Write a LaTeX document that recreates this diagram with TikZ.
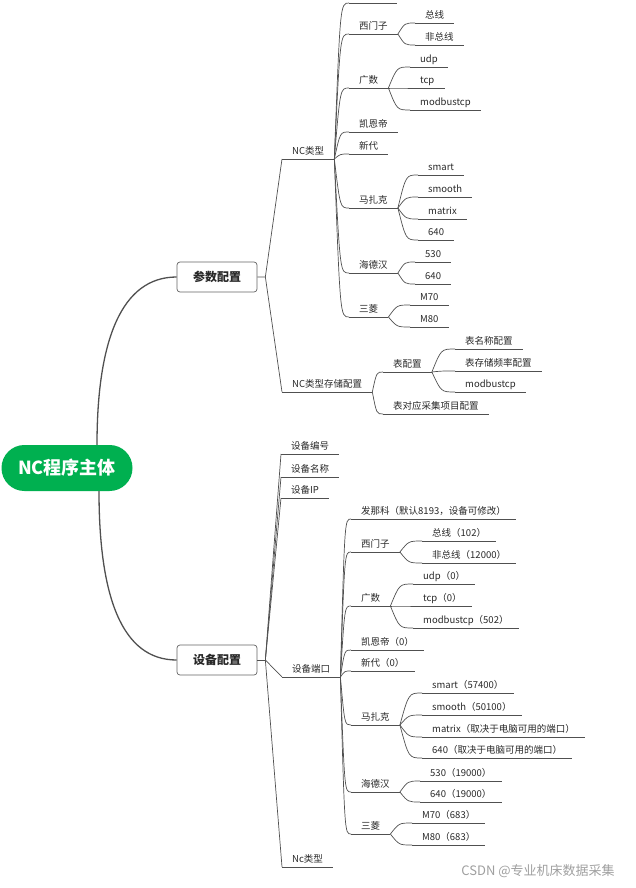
\documentclass[tikz,border=0pt]{standalone}
\usepackage{fontspec}
\setmainfont{Noto Sans CJK SC}
\usetikzlibrary{calc}
\definecolor{rootgreen}{RGB}{0,176,80}
\definecolor{linec}{RGB}{80,80,80}
\definecolor{textc}{RGB}{40,40,40}
\definecolor{boxc}{RGB}{100,100,100}
\tikzset{
  topic/.style={anchor=south west, inner xsep=10pt, inner ysep=0pt,
    text height=8pt, text depth=4pt, text=textc,
    font=\fontsize{9.5}{11}\selectfont,
    append after command={(\tikzlastnode.south west) edge[draw=linec, line width=0.7pt] (\tikzlastnode.south east)}},
  branch/.style={draw=linec, line width=0.7pt,
    to path={.. controls ($(\tikztostart |- \tikztotarget)!0.4!(\tikztotarget)$) .. (\tikztotarget)}},
  link/.style={draw=linec, line width=0.7pt},
  mainbox/.style={draw=boxc, rounded corners=3pt, fill=white, line width=0.7pt,
    minimum width=80pt, minimum height=30pt, text=textc,
    font=\bfseries\fontsize{12}{14}\selectfont},
  rootnode/.style={fill=rootgreen, rounded corners=22.9pt, minimum width=131pt,
    minimum height=46pt, text=white, font=\bfseries\fontsize{18}{20}\selectfont},
  trunk/.style={draw=linec, line width=1.3pt}
}
\begin{document}
\begin{tikzpicture}[x=1pt, y=-1pt]
\useasboundingbox (0,0) rectangle (635,888);

\node[rootnode] (root) at (67,468) {NC程序主体};
\node[mainbox] (cfg) at (217,277) {参数配置};
\node[mainbox] (dev) at (217,660) {设备配置};
\draw[trunk] ([xshift=30pt]root.north) .. controls +(0,-105) and +(-55,0) .. (cfg.west);
\draw[trunk] ([xshift=32pt]root.south) .. controls +(0,105) and +(-55,0) .. (dev.west);

\coordinate (cj) at ([xshift=8pt]cfg.east);
\coordinate (dj) at ([xshift=8pt]dev.east);

\node[topic] (nct) at (282,159) {NC类型};
\node[topic] (ncs) at (282,392) {NC类型存储配置};
\draw[link] (cfg.east) -- (cj) -- (nct.south west);
\draw[link] (cj) -- (ncs.south west);

\node[topic, minimum width=48pt] (top0) at (349,3) {};
\node[topic] (smz) at (349,34) {西门子};
\node[topic] (smz1) at (415,23) {总线};
\node[topic] (smz2) at (415,45) {非总线};
\node[topic] (gs) at (349,88) {广数};
\node[topic] (gs1) at (410,67) {udp};
\node[topic] (gs2) at (410,88) {tcp};
\node[topic] (gs3) at (410,110) {modbustcp};
\node[topic] (kend) at (349,132) {凯恩帝};
\node[topic] (xd) at (349,154) {新代};
\node[topic] (mzk) at (349,208) {马扎克};
\node[topic] (mzk1) at (418,175) {smart};
\node[topic] (mzk2) at (418,197) {smooth};
\node[topic] (mzk3) at (418,219) {matrix};
\node[topic] (mzk4) at (418,240) {640};
\node[topic] (hdh) at (349,273) {海德汉};
\node[topic] (hdh1) at (415,262) {530};
\node[topic] (hdh2) at (415,284) {640};
\node[topic] (sl) at (349,317) {三菱};
\node[topic] (sl1) at (410,305) {M70};
\node[topic] (sl2) at (410,327) {M80};

\draw[branch] (nct.south east) to (top0.south west);
\draw[branch] (nct.south east) to (smz.south west);
\draw[branch] (nct.south east) to (gs.south west);
\draw[branch] (nct.south east) to (kend.south west);
\draw[branch] (nct.south east) to (xd.south west);
\draw[branch] (nct.south east) to (mzk.south west);
\draw[branch] (nct.south east) to (hdh.south west);
\draw[branch] (nct.south east) to (sl.south west);
\draw[branch] (smz.south east) to (smz1.south west);
\draw[branch] (smz.south east) to (smz2.south west);
\draw[branch] (gs.south east) to (gs1.south west);
\draw[branch] (gs.south east) to (gs2.south west);
\draw[branch] (gs.south east) to (gs3.south west);
\draw[branch] (mzk.south east) to (mzk1.south west);
\draw[branch] (mzk.south east) to (mzk2.south west);
\draw[branch] (mzk.south east) to (mzk3.south west);
\draw[branch] (mzk.south east) to (mzk4.south west);
\draw[branch] (hdh.south east) to (hdh1.south west);
\draw[branch] (hdh.south east) to (hdh2.south west);
\draw[branch] (sl.south east) to (sl1.south west);
\draw[branch] (sl.south east) to (sl2.south west);

\node[topic] (bpz) at (383,372) {表配置};
\node[topic] (bpz1) at (455,349) {表名称配置};
\node[topic] (bpz2) at (455,371) {表存储频率配置};
\node[topic] (bpz3) at (455,392) {modbustcp};
\node[topic] (bdy) at (383,414) {表对应采集项目配置};
\draw[branch] (ncs.south east) to (bpz.south west);
\draw[branch] (ncs.south east) to (bdy.south west);
\draw[branch] (bpz.south east) to (bpz1.south west);
\draw[branch] (bpz.south east) to (bpz2.south west);
\draw[branch] (bpz.south east) to (bpz3.south west);

\node[topic] (sbbh) at (281,454) {设备编号};
\node[topic] (sbmc) at (281,477) {设备名称};
\node[topic] (sbip) at (281,498) {设备IP};
\node[topic] (sbdk) at (282,677) {设备端口};
\node[topic] (nclx) at (282,867) {Nc类型};
\draw[link] (dev.east) -- (dj);
\draw[link] (dj) -- (sbbh.south west);
\draw[link] (dj) -- (sbmc.south west);
\draw[link] (dj) -- (sbip.south west);
\draw[link] (dj) -- (sbdk.south west);
\draw[link] (dj) -- (nclx.south west);

\node[topic] (fnkb) at (351,519) {发那科（默认8193，设备可修改）};
\node[topic] (smzb) at (351,552) {西门子};
\node[topic] (smzb1) at (422,541) {总线（102）};
\node[topic] (smzb2) at (422,563) {非总线（12000）};
\node[topic] (gsb) at (351,606) {广数};
\node[topic] (gsb1) at (413,584) {udp（0）};
\node[topic] (gsb2) at (413,606) {tcp（0）};
\node[topic] (gsb3) at (413,628) {modbustcp（502）};
\node[topic] (kendb) at (351,650) {凯恩帝（0）};
\node[topic] (xdb) at (351,671) {新代（0）};
\node[topic] (mzkb) at (351,725) {马扎克};
\node[topic] (mzkb1) at (422,693) {smart（57400）};
\node[topic] (mzkb2) at (422,715) {smooth（50100）};
\node[topic] (mzkb3) at (422,737) {matrix（取决于电脑可用的端口）};
\node[topic] (mzkb4) at (422,758) {640（取决于电脑可用的端口）};
\node[topic] (hdhb) at (351,792) {海德汉};
\node[topic] (hdhb1) at (420,781) {530（19000）};
\node[topic] (hdhb2) at (420,802) {640（19000）};
\node[topic] (slb) at (351,834) {三菱};
\node[topic] (slb1) at (412,823) {M70（683）};
\node[topic] (slb2) at (412,845) {M80（683）};

\draw[branch] (sbdk.south east) to (fnkb.south west);
\draw[branch] (sbdk.south east) to (smzb.south west);
\draw[branch] (sbdk.south east) to (gsb.south west);
\draw[branch] (sbdk.south east) to (kendb.south west);
\draw[branch] (sbdk.south east) to (xdb.south west);
\draw[branch] (sbdk.south east) to (mzkb.south west);
\draw[branch] (sbdk.south east) to (hdhb.south west);
\draw[branch] (sbdk.south east) to (slb.south west);
\draw[branch] (smzb.south east) to (smzb1.south west);
\draw[branch] (smzb.south east) to (smzb2.south west);
\draw[branch] (gsb.south east) to (gsb1.south west);
\draw[branch] (gsb.south east) to (gsb2.south west);
\draw[branch] (gsb.south east) to (gsb3.south west);
\draw[branch] (mzkb.south east) to (mzkb1.south west);
\draw[branch] (mzkb.south east) to (mzkb2.south west);
\draw[branch] (mzkb.south east) to (mzkb3.south west);
\draw[branch] (mzkb.south east) to (mzkb4.south west);
\draw[branch] (hdhb.south east) to (hdhb1.south west);
\draw[branch] (hdhb.south east) to (hdhb2.south west);
\draw[branch] (slb.south east) to (slb1.south west);
\draw[branch] (slb.south east) to (slb2.south west);

\node[text=gray!75, font=\fontsize{13}{15}\selectfont] (mark) at (538,871) {CSDN @专业机床数据采集};

\end{tikzpicture}
\end{document}
